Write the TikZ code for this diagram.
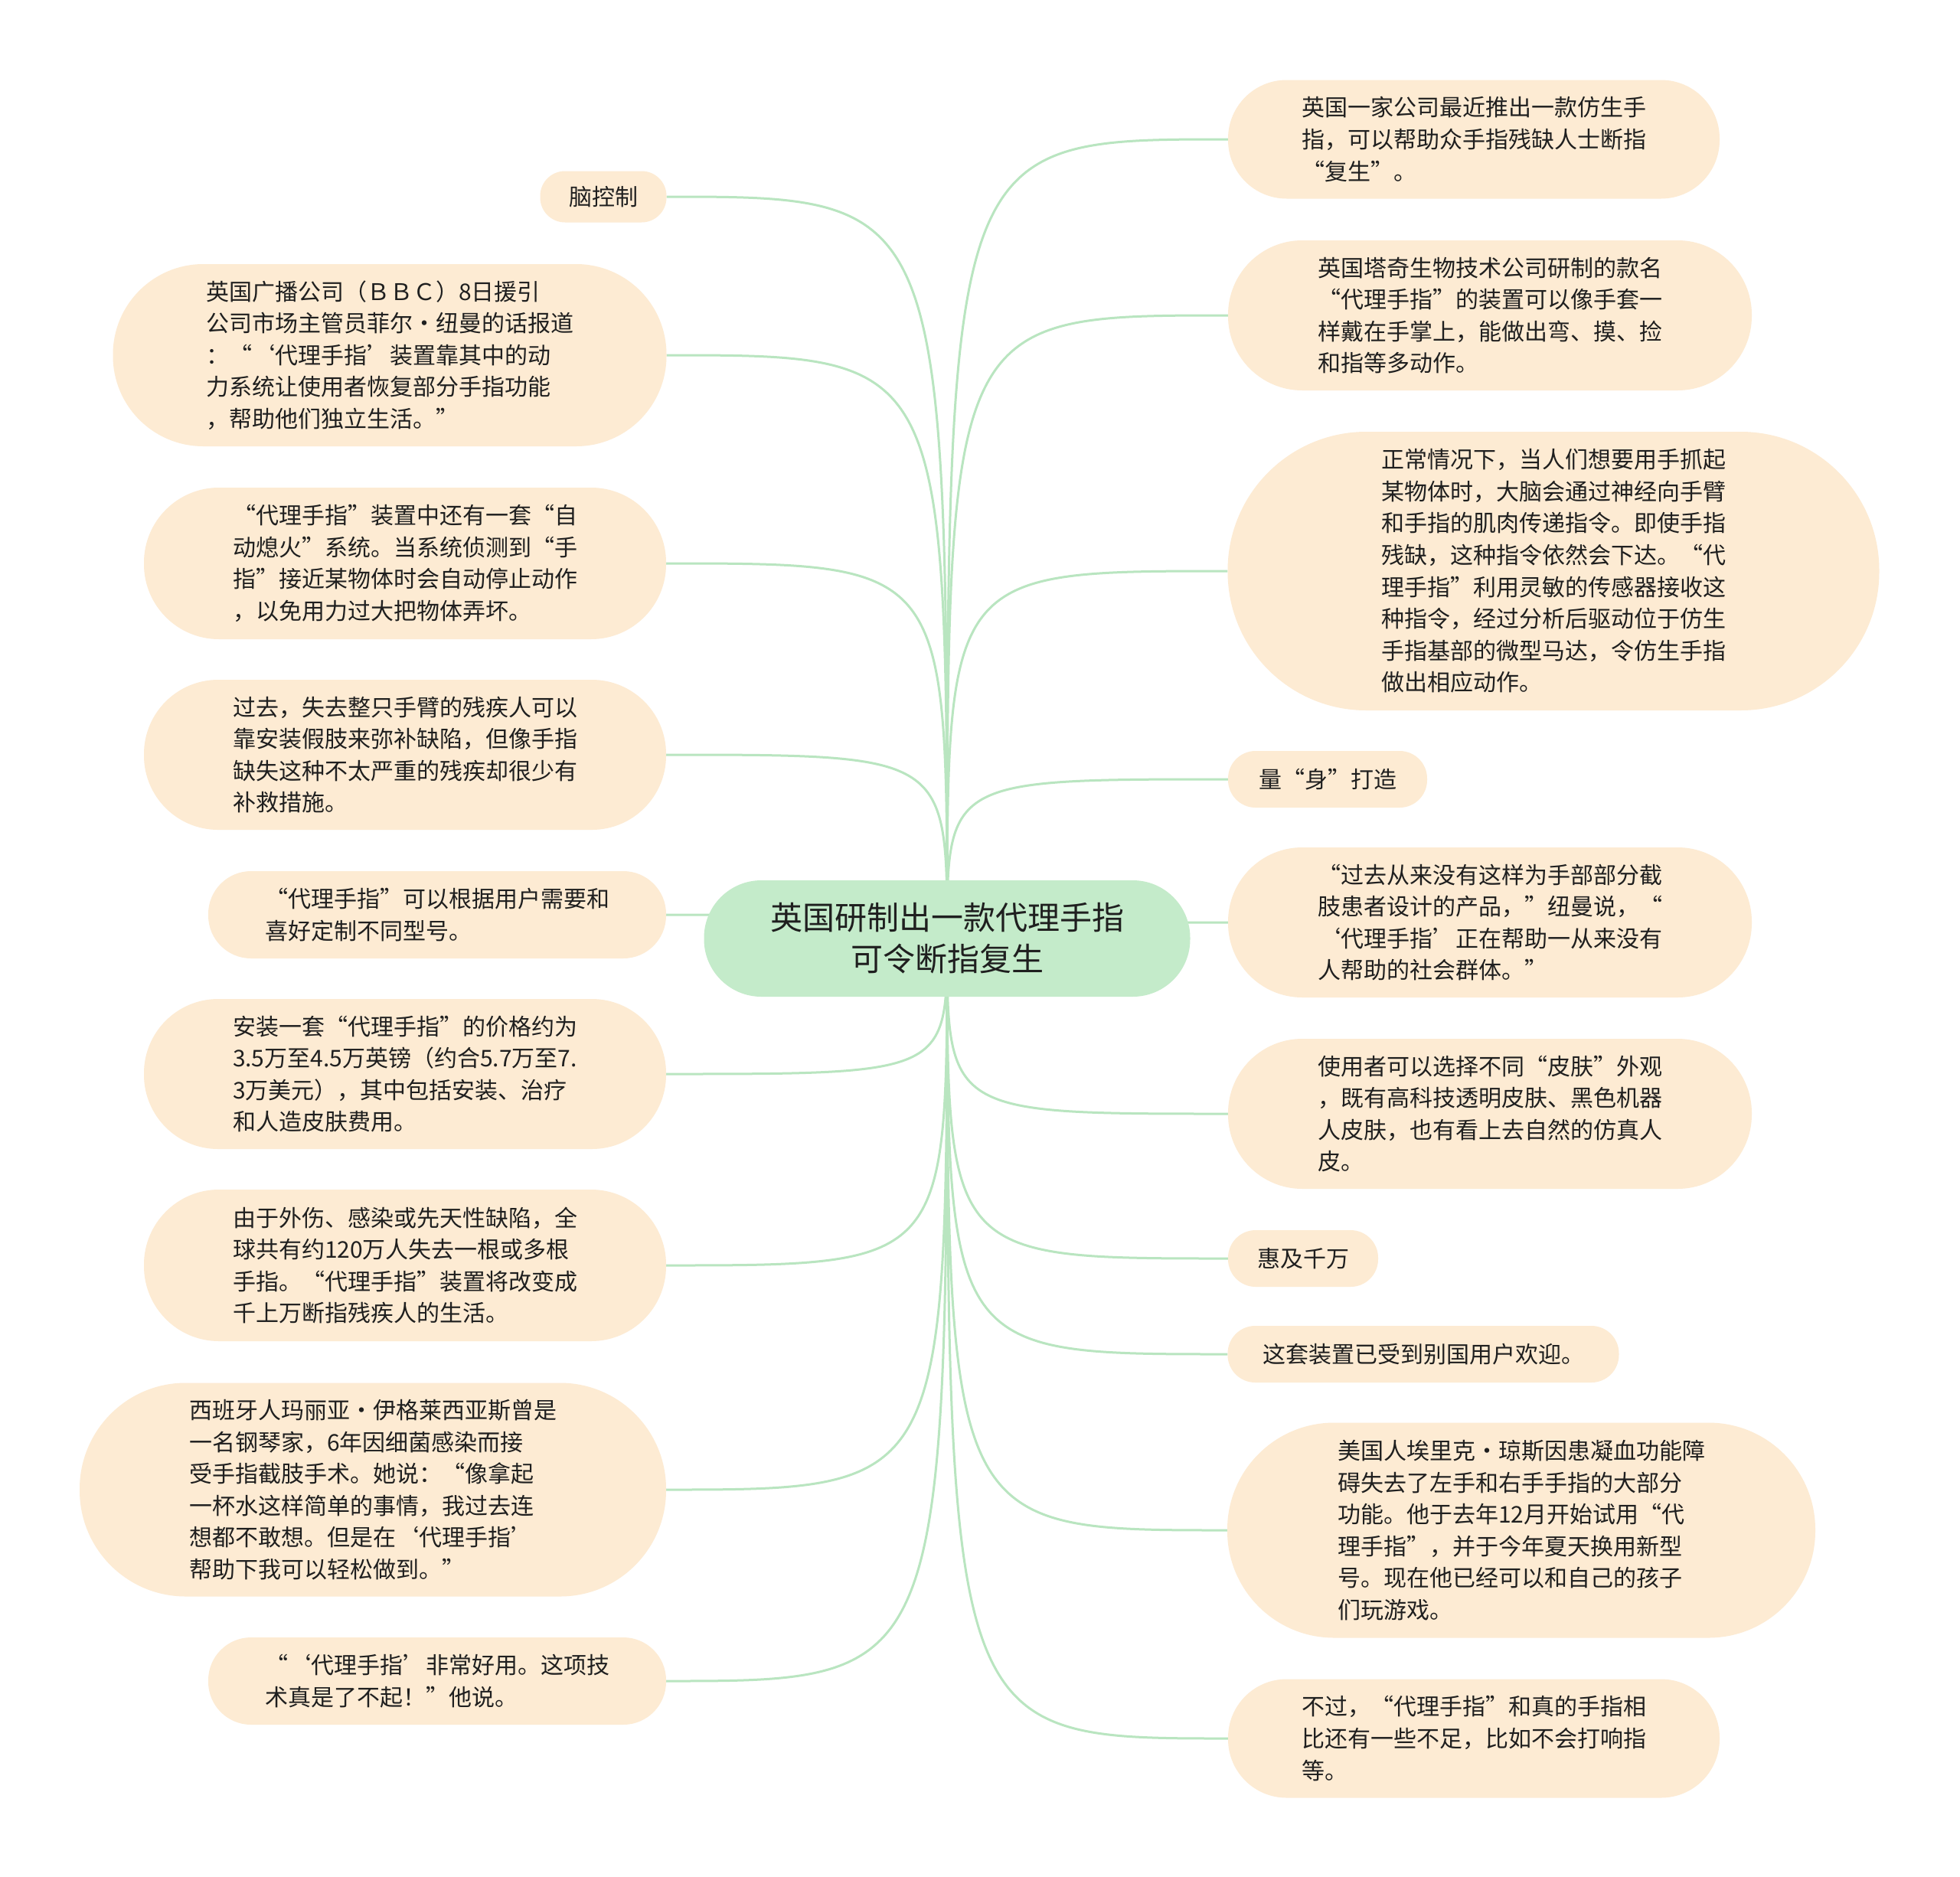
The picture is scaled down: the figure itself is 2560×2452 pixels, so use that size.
\documentclass[tikz,border=0pt]{standalone}
\usepackage{fontspec}
\setmainfont{Noto Sans CJK SC}
\usetikzlibrary{backgrounds}

\definecolor{leafbg}{HTML}{FDEBD3}
\definecolor{rootbg}{HTML}{C4EBCA}
\definecolor{linkc}{HTML}{B9E5C0}
\definecolor{ink}{HTML}{1F1F1F}

\begin{document}
\begin{tikzpicture}[x=1pt, y=-1pt,
  leaf/.style 2 args={fill=leafbg, text=ink, align=left, inner sep=0pt,
    minimum width=#1, minimum height=#2, rounded corners=0.5*#2-1pt,
    font=\fontsize{30pt}{41.6pt}\selectfont},
  root/.style={fill=rootbg, text=ink, align=center, inner sep=0pt,
    minimum width=635pt, minimum height=152pt, rounded corners=75pt,
    font=\fontsize{42pt}{54pt}\selectfont},
  link/.style={draw=linkc, line width=3pt}]
\path[use as bounding box] (0,0) rectangle (2560,2452);

% Central topic
\node[root] (C) at (1237,1226) {英国研制出一款代理手指\\可令断指复生};

% Left branch
\node[leaf={165pt}{67pt}] (L1) at (788,257) {脑控制};
\node[leaf={723pt}{238pt}] (L2) at (509,464) {英国广播公司（ＢＢＣ）8日援引\\公司市场主管员菲尔·纽曼的话报道\\：“‘代理手指’装置靠其中的动\\力系统让使用者恢复部分手指功能\\，帮助他们独立生活。”};
\node[leaf={682pt}{198pt}] (L3) at (529,736) {“代理手指”装置中还有一套“自\\动熄火”系统。当系统侦测到“手\\指”接近某物体时会自动停止动作\\，以免用力过大把物体弄坏。};
\node[leaf={682pt}{196pt}] (L4) at (529,986) {过去，失去整只手臂的残疾人可以\\靠安装假肢来弥补缺陷，但像手指\\缺失这种不太严重的残疾却很少有\\补救措施。};
\node[leaf={598pt}{114pt}] (L5) at (571,1195) {“代理手指”可以根据用户需要和\\喜好定制不同型号。};
\node[leaf={682pt}{196pt}] (L6) at (529,1403) {安装一套“代理手指”的价格约为\\3.5万至4.5万英镑（约合5.7万至7.\\3万美元），其中包括安装、治疗\\和人造皮肤费用。};
\node[leaf={682pt}{198pt}] (L7) at (529,1653) {由于外伤、感染或先天性缺陷，全\\球共有约120万人失去一根或多根\\手指。“代理手指”装置将改变成\\千上万断指残疾人的生活。};
\node[leaf={766pt}{279pt}] (L8) at (487,1946) {西班牙人玛丽亚·伊格莱西亚斯曾是\\一名钢琴家，6年因细菌感染而接\\受手指截肢手术。她说：“像拿起\\一杯水这样简单的事情，我过去连\\想都不敢想。但是在‘代理手指’\\帮助下我可以轻松做到。”};
\node[leaf={598pt}{114pt}] (L9) at (571,2196) {“‘代理手指’非常好用。这项技\\术真是了不起！”他说。};

% Right branch
\node[leaf={642pt}{155pt}] (R1) at (1925,182) {英国一家公司最近推出一款仿生手\\指，可以帮助众手指残缺人士断指\\“复生”。};
\node[leaf={684pt}{196pt}] (R2) at (1946,412) {英国塔奇生物技术公司研制的款名\\“代理手指”的装置可以像手套一\\样戴在手掌上，能做出弯、摸、捡\\和指等多动作。};
\node[leaf={851pt}{364pt}] (R3) at (2029,746) {正常情况下，当人们想要用手抓起\\某物体时，大脑会通过神经向手臂\\和手指的肌肉传递指令。即使手指\\残缺，这种指令依然会下达。“代\\理手指”利用灵敏的传感器接收这\\种指令，经过分析后驱动位于仿生\\手指基部的微型马达，令仿生手指\\做出相应动作。};
\node[leaf={260pt}{74pt}] (R4) at (1734,1018) {量“身”打造};
\node[leaf={684pt}{196pt}] (R5) at (1946,1205) {“过去从来没有这样为手部部分截\\肢患者设计的产品，”纽曼说，“\\‘代理手指’正在帮助一从来没有\\人帮助的社会群体。”};
\node[leaf={684pt}{196pt}] (R6) at (1946,1455) {使用者可以选择不同“皮肤”外观\\，既有高科技透明皮肤、黑色机器\\人皮肤，也有看上去自然的仿真人\\皮。};
\node[leaf={196pt}{74pt}] (R7) at (1702,1644) {惠及千万};
\node[leaf={511pt}{74pt}] (R8) at (1859,1769) {这套装置已受到别国用户欢迎。};
\node[leaf={768pt}{281pt}] (R9) at (1987,1999) {美国人埃里克·琼斯因患凝血功能障\\碍失去了左手和右手手指的大部分\\功能。他于去年12月开始试用“代\\理手指”，并于今年夏天换用新型\\号。现在他已经可以和自己的孩子\\们玩游戏。};
\node[leaf={642pt}{155pt}] (R10) at (1925,2271) {不过，“代理手指”和真的手指相\\比还有一些不足，比如不会打响指\\等。};

% Curved links behind the nodes
\begin{scope}[on background layer]
\fill[white] (0,0) rectangle (2560,2452);
\foreach \n in {L1,L2,L3,L4,L5,L6,L7,L8,L9}
  \draw[link] (C.center) .. controls (C.center |- \n.east) .. (\n.east);
\foreach \n in {R1,R2,R3,R4,R5,R6,R7,R8,R9,R10}
  \draw[link] (C.center) .. controls (C.center |- \n.west) .. (\n.west);
\end{scope}
\end{tikzpicture}
\end{document}
